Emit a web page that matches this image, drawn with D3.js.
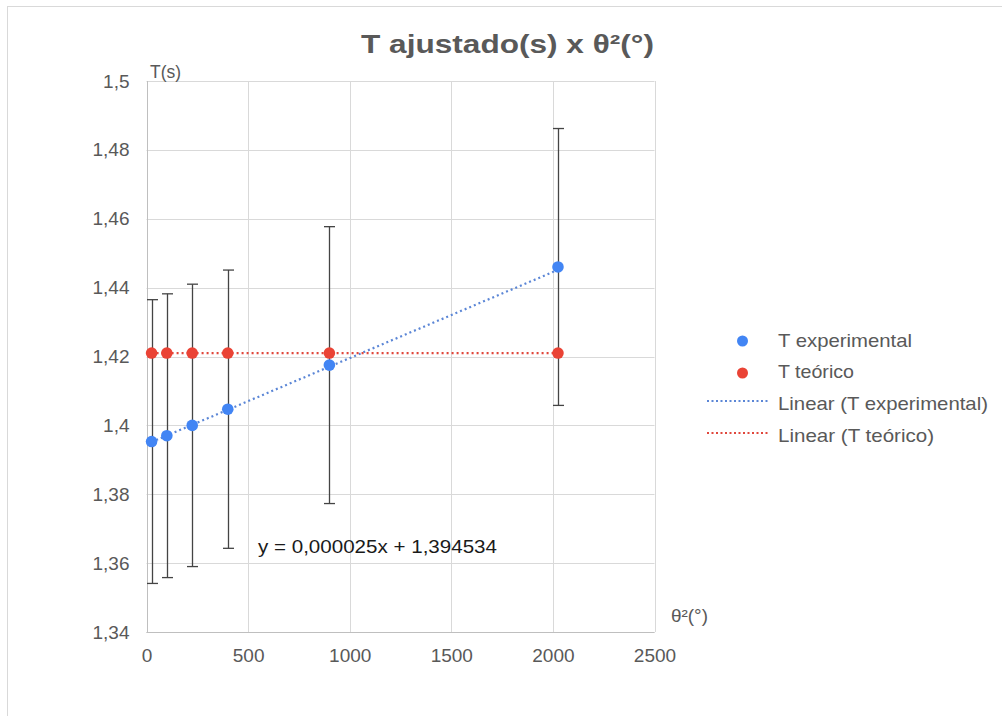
<!DOCTYPE html>
<html><head><meta charset="utf-8">
<script src="https://cdn.jsdelivr.net/npm/d3@7"></script>
<style>body{margin:0;background:#fff;} svg{display:block;font-family:"Liberation Sans",Arial,sans-serif;}</style>
</head><body>
<svg id="chart" width="1002" height="716"></svg>
<script>
const thetaSq = [25, 100, 225, 400, 900, 2025];
const tExperimental = [1.3953, 1.3970, 1.4000, 1.4047, 1.4175, 1.4460];
const errExperimental = [0.0412, 0.0412, 0.0410, 0.0404, 0.0402, 0.0402];
const tTeorico = [1.421, 1.421, 1.421, 1.421, 1.421, 1.421];
const xTicks = [0, 500, 1000, 1500, 2000, 2500];
const yTicks = [1.34, 1.36, 1.38, 1.40, 1.42, 1.44, 1.46, 1.48, 1.50];
const yTickLabels = ["1,34", "1,36", "1,38", "1,4", "1,42", "1,44", "1,46", "1,48", "1,5"];
const trendSlope = 0.000025, trendIntercept = 1.394534;
const legendLabels = ["T experimental", "T teórico", "Linear (T experimental)", "Linear (T teórico)"];
const titleText = "T ajustado(s) x θ²(°)";

const svg = d3.select("#chart");
const blue = "#4285f4", red = "#ea4335";
const x = d3.scaleLinear().domain([0, 2500]).range([146.5, 654.5]);
const y = d3.scaleLinear().domain([1.34, 1.50]).range([632, 81]);

svg.append("rect").attr("x", 7.5).attr("y", 6.5).attr("width", 1000).attr("height", 720)
  .attr("fill", "none").attr("stroke", "#d9d9d9");

// grid
const g = svg.append("g");
g.selectAll(".gy").data(yTicks).join("line")
  .attr("x1", x(0)).attr("x2", x(2500)).attr("y1", d => Math.round(y(d)) + 0.5).attr("y2", d => Math.round(y(d)) + 0.5)
  .attr("stroke", "#d9d9d9");
g.selectAll(".gx").data(xTicks).join("line")
  .attr("y1", y(1.5)).attr("y2", y(1.34)).attr("x1", d => Math.round(x(d)) + 0.5).attr("x2", d => Math.round(x(d)) + 0.5)
  .attr("stroke", "#d9d9d9");
g.append("line").attr("x1", x(0)).attr("x2", x(2500)).attr("y1", Math.round(y(1.34)) + 0.5).attr("y2", Math.round(y(1.34)) + 0.5).attr("stroke", "#bfbfbf");
g.append("line").attr("x1", Math.round(x(0)) + 0.5).attr("x2", Math.round(x(0)) + 0.5).attr("y1", y(1.5)).attr("y2", y(1.34)).attr("stroke", "#bfbfbf");

// tick labels via d3 axes
const yAxis = d3.axisLeft(y).tickValues(yTicks).tickSize(0).tickPadding(0)
  .tickFormat((d, i) => yTickLabels[i]);
const ya = svg.append("g").attr("transform", `translate(${x(0) - 17},0)`).call(yAxis);
ya.select(".domain").remove();
ya.selectAll("text").attr("fill", "#595959").style("font-size", "19px").style("font-family", "Liberation Sans, Arial, sans-serif");

const xAxis = d3.axisBottom(x).tickValues(xTicks).tickSize(0).tickPadding(0).tickFormat(d3.format("d"));
const xa = svg.append("g").attr("transform", `translate(0,${y(1.34) + 16})`).call(xAxis);
xa.select(".domain").remove();
xa.selectAll("text").attr("fill", "#595959").style("font-size", "19px").style("font-family", "Liberation Sans, Arial, sans-serif");

// axis titles
svg.append("text").attr("x", 150).attr("y", 78).attr("fill", "#595959").style("font-size", "18px")
  .attr("textLength", 31).attr("lengthAdjust", "spacingAndGlyphs").text("T(s)");
svg.append("text").attr("x", 671).attr("y", 622).attr("fill", "#595959").style("font-size", "18px")
  .attr("textLength", 37).attr("lengthAdjust", "spacingAndGlyphs").text("θ²(°)");

// title
svg.append("text").attr("x", 361).attr("y", 53).attr("fill", "#595959")
  .style("font-size", "26px").style("font-weight", "bold")
  .attr("textLength", 293).attr("lengthAdjust", "spacingAndGlyphs").text(titleText);

// trendlines
const xMin = d3.min(thetaSq), xMax = d3.max(thetaSq);
svg.append("line").attr("x1", x(xMin)).attr("x2", x(xMax))
  .attr("y1", y(trendIntercept + trendSlope * xMin)).attr("y2", y(trendIntercept + trendSlope * xMax))
  .attr("stroke", "#5b86d6").attr("stroke-width", 2.2).attr("stroke-dasharray", "2,3");
svg.append("line").attr("x1", x(xMin)).attr("x2", x(xMax))
  .attr("y1", y(d3.mean(tTeorico))).attr("y2", y(d3.mean(tTeorico)))
  .attr("stroke", "#e0473c").attr("stroke-width", 2.2).attr("stroke-dasharray", "2,3");

// error bars
const eb = svg.append("g").attr("stroke", "#444").attr("stroke-width", 1.3);
thetaSq.forEach((t, i) => {
  const xx = Math.round(x(t)) + 0.5;
  const top = y(tExperimental[i] + errExperimental[i]), bot = y(tExperimental[i] - errExperimental[i]);
  eb.append("line").attr("x1", xx).attr("x2", xx).attr("y1", top).attr("y2", bot);
  eb.append("line").attr("x1", xx - 5.5).attr("x2", xx + 5.5).attr("y1", top).attr("y2", top);
  eb.append("line").attr("x1", xx - 5.5).attr("x2", xx + 5.5).attr("y1", bot).attr("y2", bot);
});

// points
svg.selectAll(".pr").data(thetaSq).join("circle")
  .attr("cx", d => x(d)).attr("cy", (d, i) => y(tTeorico[i])).attr("r", 5.8).attr("fill", red);
svg.selectAll(".pb").data(thetaSq).join("circle")
  .attr("cx", d => x(d)).attr("cy", (d, i) => y(tExperimental[i])).attr("r", 5.8).attr("fill", blue);

// equation
svg.append("text").attr("x", 258).attr("y", 553).attr("fill", "#1a1a1a").style("font-size", "19px")
  .attr("textLength", 239).attr("lengthAdjust", "spacingAndGlyphs")
  .text("y = 0,000025x + 1,394534");

// legend
const lg = svg.append("g");
const markY = [341, 373, 401, 433];
const baseY = [347, 378, 410, 442];
const legW = [134, 76, 210, 156];
lg.append("circle").attr("cx", 742.5).attr("cy", markY[0]).attr("r", 5.5).attr("fill", blue);
lg.append("circle").attr("cx", 742.5).attr("cy", markY[1]).attr("r", 5.5).attr("fill", red);
lg.append("line").attr("x1", 707).attr("x2", 770).attr("y1", markY[2]).attr("y2", markY[2])
  .attr("stroke", "#5b86d6").attr("stroke-width", 2).attr("stroke-dasharray", "2,2.5");
lg.append("line").attr("x1", 707).attr("x2", 770).attr("y1", markY[3]).attr("y2", markY[3])
  .attr("stroke", "#e0473c").attr("stroke-width", 2).attr("stroke-dasharray", "2,2.5");
lg.selectAll(".lt").data(legendLabels).join("text")
  .attr("x", 778).attr("y", (d, i) => baseY[i])
  .attr("textLength", (d, i) => legW[i]).attr("lengthAdjust", "spacingAndGlyphs")
  .attr("fill", "#595959").style("font-size", "19px").text(d => d);
</script>
</body></html>
